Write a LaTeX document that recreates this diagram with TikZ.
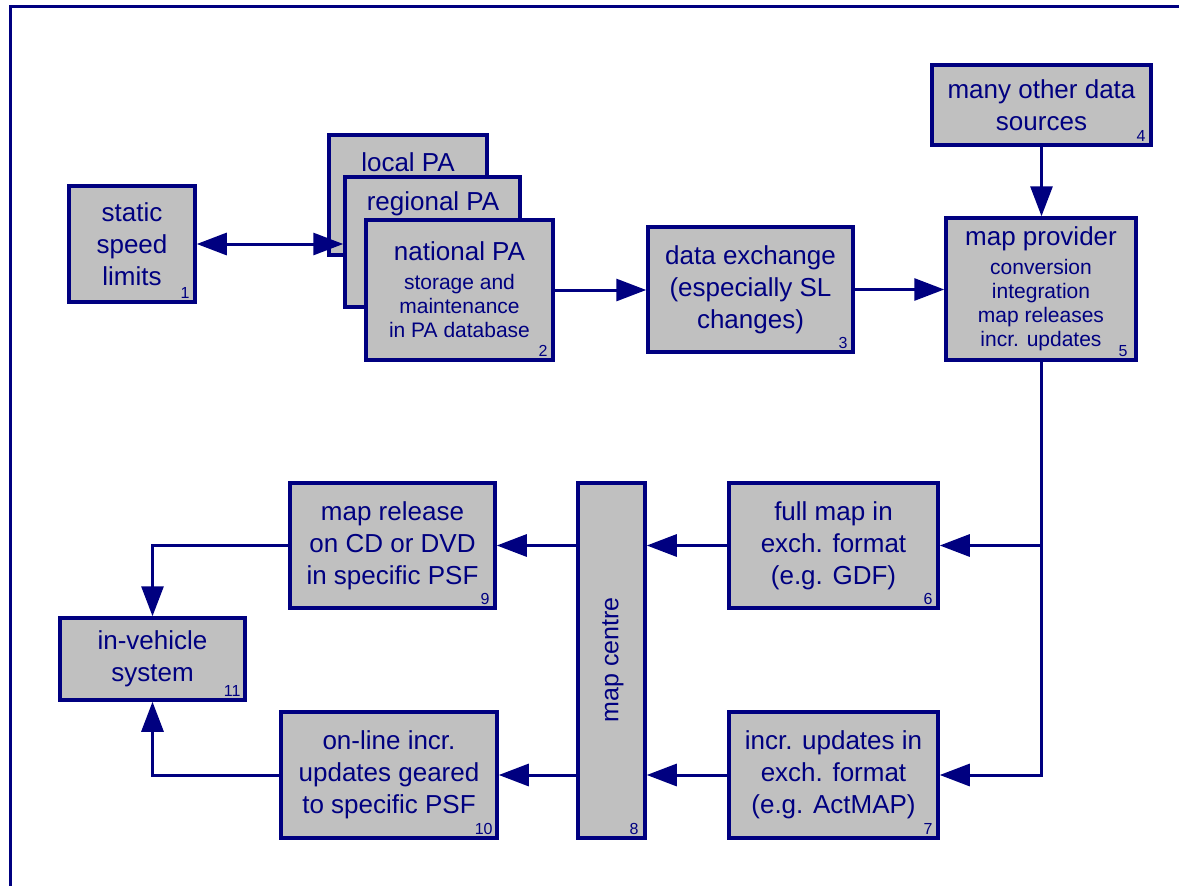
\documentclass[tikz,border=0pt]{standalone}
\usepackage{fontspec}
\setmainfont{Liberation Sans}
\usetikzlibrary{arrows.meta,calc}
\definecolor{navyb}{RGB}{0,0,128}
\definecolor{boxgray}{RGB}{192,192,192}
\newcommand{\bigfnt}{\fontsize{26}{32}\selectfont}
\newcommand{\smfnt}{\fontsize{21}{24}\selectfont}
\begin{document}
\begin{tikzpicture}[x=1pt,y=-1pt,
  box/.style={draw=navyb, fill=boxgray, line width=3.5pt, text=navyb, align=center, inner sep=0pt, font=\bigfnt},
  lbl/.style={text=navyb, font=\bigfnt, inner sep=0pt},
  num/.style={text=navyb, font=\fontsize{16}{18}\selectfont, inner sep=0pt, anchor=south east},
  conn/.style={draw=navyb, line width=3pt, -{Triangle[length=30pt,width=22pt]}},
  dconn/.style={draw=navyb, line width=3pt, {Triangle[length=30pt,width=22pt]}-{Triangle[length=30pt,width=22pt]}}]
\useasboundingbox (0,0) rectangle (1179,886);
\clip (0,0) rectangle (1179,886);
\fill[white] (0,0) rectangle (1179,886);
\draw[navyb, line width=3pt] (10,6) rectangle (1220,930);

% boxes
\node[box, minimum width=126, minimum height=116] (n1) at (132,244) {static\\ speed\\ limits};
\node[box, minimum width=158, minimum height=120] (lpa) at (408,195) {};
\node[lbl] (tlpa) at (408,162) {local PA};
\node[box, minimum width=175, minimum height=130] (rpa) at (432.5,242) {};
\node[lbl] (trpa) at (433,204) {regional PA};
\node[box, minimum width=187, minimum height=140] (npa) at (459.5,290) {national PA\\[-3pt] \smfnt storage and\\[-8pt] \smfnt maintenance\\[-8pt] \smfnt in PA database};
\node[box, minimum width=205, minimum height=125] (n3) at (750.5,289.5) {data exchange\\ (especially SL\\ changes)};
\node[box, minimum width=219, minimum height=80] (n4) at (1041.5,105) {many other data\\ sources};
\node[box, minimum width=190, minimum height=142] (n5) at (1041,289) {map provider\\[-3pt] \smfnt conversion\\[-8pt] \smfnt integration\\[-8pt] \smfnt map releases\\[-8pt] \smfnt incr. updates};
\node[box, minimum width=209, minimum height=125] (n6) at (833.5,545.5) {full map in\\ exch. format\\ (e.g. GDF)};
\node[box, minimum width=209, minimum height=126] (n7) at (833.5,775) {incr. updates in\\ exch. format\\ (e.g. ActMAP)};
\node[box, minimum width=67, minimum height=355] (n8) at (611.5,660.5) {};
\node[lbl, rotate=90, font=\fontsize{25}{30}\selectfont] (t8) at (613,660) {map centre};
\node[box, minimum width=205, minimum height=125] (n9) at (392.5,545.5) {map release\\ on CD or DVD\\ in specific PSF};
\node[box, minimum width=216, minimum height=126] (n10) at (389,775) {on-line incr.\\ updates geared\\ to specific PSF};
\node[box, minimum width=185, minimum height=82] (n11) at (152.5,659) {in-vehicle\\ system};

% numbers
\node[num] (k1) at ([shift={(-7,-5)}]n1.south east) {1};
\node[num] (k2) at ([shift={(-7,-5)}]npa.south east) {2};
\node[num] (k3) at ([shift={(-7,-5)}]n3.south east) {3};
\node[num] (k4) at ([shift={(-7,-5)}]n4.south east) {4};
\node[num] (k5) at ([shift={(-10,-5)}]n5.south east) {5};
\node[num] (k6) at ([shift={(-7,-5)}]n6.south east) {6};
\node[num] (k7) at ([shift={(-7,-5)}]n7.south east) {7};
\node[num] (k8) at ([shift={(-8,-5)}]n8.south east) {8};
\node[num] (k9) at ([shift={(-7,-5)}]n9.south east) {9};
\node[num] (k10) at ([shift={(-6,-5)}]n10.south east) {10};
\node[num] (k11) at ([shift={(-6,-5)}]n11.south east) {11};

% connectors
\draw[dconn] (n1.east) -- (n1.east -| rpa.west);
\draw[conn] (npa.east) -- (npa.east -| n3.west);
\draw[conn] (n3.east) -- (n3.east -| n5.west);
\draw[conn] (n4.south) -- (n4.south |- n5.north);
\draw[conn] (n5.south) |- (n7.east);
\draw[conn] (n5.south |- n6.east) -- (n6.east);
\draw[conn] (n6.west) -- (n6.west -| n8.east);
\draw[conn] (n7.west) -- (n7.west -| n8.east);
\draw[conn] (n8.west |- n9.east) -- (n9.east);
\draw[conn] (n8.west |- n10.east) -- (n10.east);
\draw[conn] (n9.west) -| (n11.north);
\draw[conn] (n10.west) -| (n11.south);
\end{tikzpicture}
\end{document}
